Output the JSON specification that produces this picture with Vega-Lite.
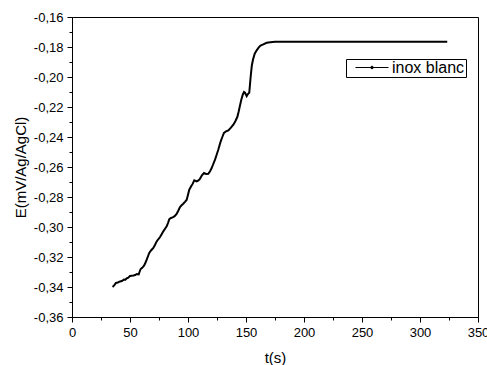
{
  "$schema": "https://vega.github.io/schema/vega-lite/v6.json",
  "width": 406,
  "height": 300,
  "autosize": {"type": "none"},
  "padding": {"left": 72, "top": 17, "right": 9, "bottom": 48},
  "background": "white",
  "config": {
    "font": "Liberation Sans",
    "view": {"stroke": "black", "strokeWidth": 1},
    "axis": {
      "domainColor": "black",
      "tickColor": "black",
      "labelColor": "black",
      "titleColor": "black",
      "labelFont": "Liberation Sans",
      "titleFont": "Liberation Sans",
      "labelFontSize": 13,
      "titleFontSize": 15,
      "titleFontWeight": "normal",
      "grid": false
    }
  },
  "data": {
    "values": [
      {"t": 35.0, "E": -0.3400, "series": "inox blanc"},
      {"t": 36.5, "E": -0.3388, "series": "inox blanc"},
      {"t": 37.9, "E": -0.3373, "series": "inox blanc"},
      {"t": 39.5, "E": -0.3370, "series": "inox blanc"},
      {"t": 41.4, "E": -0.3363, "series": "inox blanc"},
      {"t": 43.0, "E": -0.3360, "series": "inox blanc"},
      {"t": 44.8, "E": -0.3351, "series": "inox blanc"},
      {"t": 46.0, "E": -0.3352, "series": "inox blanc"},
      {"t": 47.1, "E": -0.3343, "series": "inox blanc"},
      {"t": 48.5, "E": -0.3338, "series": "inox blanc"},
      {"t": 50.0, "E": -0.3327, "series": "inox blanc"},
      {"t": 51.5, "E": -0.3325, "series": "inox blanc"},
      {"t": 52.9, "E": -0.3323, "series": "inox blanc"},
      {"t": 54.5, "E": -0.3320, "series": "inox blanc"},
      {"t": 55.8, "E": -0.3313, "series": "inox blanc"},
      {"t": 57.5, "E": -0.3316, "series": "inox blanc"},
      {"t": 58.2, "E": -0.3300, "series": "inox blanc"},
      {"t": 59.2, "E": -0.3280, "series": "inox blanc"},
      {"t": 60.5, "E": -0.3272, "series": "inox blanc"},
      {"t": 62.1, "E": -0.3258, "series": "inox blanc"},
      {"t": 63.2, "E": -0.3240, "series": "inox blanc"},
      {"t": 64.4, "E": -0.3218, "series": "inox blanc"},
      {"t": 65.5, "E": -0.3195, "series": "inox blanc"},
      {"t": 66.6, "E": -0.3173, "series": "inox blanc"},
      {"t": 68.3, "E": -0.3155, "series": "inox blanc"},
      {"t": 70.1, "E": -0.3140, "series": "inox blanc"},
      {"t": 71.5, "E": -0.3120, "series": "inox blanc"},
      {"t": 73.0, "E": -0.3096, "series": "inox blanc"},
      {"t": 74.5, "E": -0.3080, "series": "inox blanc"},
      {"t": 75.9, "E": -0.3067, "series": "inox blanc"},
      {"t": 77.3, "E": -0.3048, "series": "inox blanc"},
      {"t": 78.7, "E": -0.3029, "series": "inox blanc"},
      {"t": 80.2, "E": -0.3012, "series": "inox blanc"},
      {"t": 81.6, "E": -0.2996, "series": "inox blanc"},
      {"t": 82.8, "E": -0.2972, "series": "inox blanc"},
      {"t": 83.9, "E": -0.2947, "series": "inox blanc"},
      {"t": 85.3, "E": -0.2940, "series": "inox blanc"},
      {"t": 86.8, "E": -0.2936, "series": "inox blanc"},
      {"t": 88.5, "E": -0.2928, "series": "inox blanc"},
      {"t": 90.2, "E": -0.2913, "series": "inox blanc"},
      {"t": 91.7, "E": -0.2890, "series": "inox blanc"},
      {"t": 93.1, "E": -0.2867, "series": "inox blanc"},
      {"t": 94.5, "E": -0.2855, "series": "inox blanc"},
      {"t": 95.9, "E": -0.2845, "series": "inox blanc"},
      {"t": 97.4, "E": -0.2832, "series": "inox blanc"},
      {"t": 98.9, "E": -0.2818, "series": "inox blanc"},
      {"t": 100.0, "E": -0.2785, "series": "inox blanc"},
      {"t": 101.1, "E": -0.2751, "series": "inox blanc"},
      {"t": 102.6, "E": -0.2730, "series": "inox blanc"},
      {"t": 104.1, "E": -0.2711, "series": "inox blanc"},
      {"t": 105.4, "E": -0.2689, "series": "inox blanc"},
      {"t": 107.5, "E": -0.2696, "series": "inox blanc"},
      {"t": 109.0, "E": -0.2690, "series": "inox blanc"},
      {"t": 110.3, "E": -0.2679, "series": "inox blanc"},
      {"t": 112.0, "E": -0.2655, "series": "inox blanc"},
      {"t": 113.8, "E": -0.2640, "series": "inox blanc"},
      {"t": 115.5, "E": -0.2646, "series": "inox blanc"},
      {"t": 117.5, "E": -0.2645, "series": "inox blanc"},
      {"t": 119.0, "E": -0.2628, "series": "inox blanc"},
      {"t": 120.4, "E": -0.2607, "series": "inox blanc"},
      {"t": 121.8, "E": -0.2580, "series": "inox blanc"},
      {"t": 123.3, "E": -0.2551, "series": "inox blanc"},
      {"t": 124.7, "E": -0.2518, "series": "inox blanc"},
      {"t": 126.1, "E": -0.2485, "series": "inox blanc"},
      {"t": 127.2, "E": -0.2455, "series": "inox blanc"},
      {"t": 128.2, "E": -0.2429, "series": "inox blanc"},
      {"t": 129.6, "E": -0.2400, "series": "inox blanc"},
      {"t": 131.0, "E": -0.2373, "series": "inox blanc"},
      {"t": 132.8, "E": -0.2362, "series": "inox blanc"},
      {"t": 134.8, "E": -0.2356, "series": "inox blanc"},
      {"t": 137.0, "E": -0.2338, "series": "inox blanc"},
      {"t": 139.1, "E": -0.2318, "series": "inox blanc"},
      {"t": 140.8, "E": -0.2295, "series": "inox blanc"},
      {"t": 142.5, "E": -0.2267, "series": "inox blanc"},
      {"t": 143.7, "E": -0.2230, "series": "inox blanc"},
      {"t": 144.8, "E": -0.2191, "series": "inox blanc"},
      {"t": 146.0, "E": -0.2150, "series": "inox blanc"},
      {"t": 147.2, "E": -0.2118, "series": "inox blanc"},
      {"t": 148.3, "E": -0.2100, "series": "inox blanc"},
      {"t": 149.2, "E": -0.2105, "series": "inox blanc"},
      {"t": 150.6, "E": -0.2128, "series": "inox blanc"},
      {"t": 151.8, "E": -0.2112, "series": "inox blanc"},
      {"t": 152.8, "E": -0.2105, "series": "inox blanc"},
      {"t": 154.0, "E": -0.2000, "series": "inox blanc"},
      {"t": 155.0, "E": -0.1925, "series": "inox blanc"},
      {"t": 156.0, "E": -0.1885, "series": "inox blanc"},
      {"t": 157.5, "E": -0.1845, "series": "inox blanc"},
      {"t": 159.2, "E": -0.1822, "series": "inox blanc"},
      {"t": 161.0, "E": -0.1803, "series": "inox blanc"},
      {"t": 162.5, "E": -0.1790, "series": "inox blanc"},
      {"t": 164.9, "E": -0.1782, "series": "inox blanc"},
      {"t": 167.8, "E": -0.1772, "series": "inox blanc"},
      {"t": 171.0, "E": -0.1768, "series": "inox blanc"},
      {"t": 175.0, "E": -0.1765, "series": "inox blanc"},
      {"t": 200.0, "E": -0.1765, "series": "inox blanc"},
      {"t": 225.0, "E": -0.1765, "series": "inox blanc"},
      {"t": 250.0, "E": -0.1765, "series": "inox blanc"},
      {"t": 275.0, "E": -0.1765, "series": "inox blanc"},
      {"t": 300.0, "E": -0.1765, "series": "inox blanc"},
      {"t": 323.5, "E": -0.1765, "series": "inox blanc"}
    ]
  },
  "mark": {"type": "line", "strokeWidth": 2, "interpolate": "linear"},
  "encoding": {
    "x": {
      "field": "t",
      "type": "quantitative",
      "scale": {"domain": [0, 350], "nice": false, "zero": false},
      "axis": {
        "title": "t(s)",
        "values": [0, 25, 50, 75, 100, 125, 150, 175, 200, 225, 250, 275, 300, 325, 350],
        "labelExpr": "datum.value % 50 === 0 ? datum.label : ''",
        "labelFlush": false,
        "labelOverlap": false,
        "tickSize": {"condition": {"test": "datum.value % 50 === 0", "value": 5}, "value": 3},
        "labelPadding": 4,
        "titlePadding": 11
      }
    },
    "y": {
      "field": "E",
      "type": "quantitative",
      "scale": {"domain": [-0.36, -0.16], "nice": false, "zero": false},
      "axis": {
        "title": "E(mV/Ag/AgCl)",
        "values": [-0.36, -0.35, -0.34, -0.33, -0.32, -0.31, -0.30, -0.29, -0.28, -0.27, -0.26, -0.25, -0.24, -0.23, -0.22, -0.21, -0.20, -0.19, -0.18, -0.17, -0.16],
        "labelExpr": "round(datum.value * 100) % 2 === 0 ? '-0,' + format(round(abs(datum.value) * 100), 'd') : ''",
        "labelFlush": false,
        "labelOverlap": false,
        "tickSize": {"condition": {"test": "round(datum.value * 100) % 2 === 0", "value": 5}, "value": 3},
        "labelPadding": 4,
        "titlePadding": 5
      }
    },
    "color": {
      "field": "series",
      "type": "nominal",
      "scale": {"range": ["black"]},
      "legend": {
        "title": null,
        "orient": "none",
        "legendX": 274,
        "legendY": 42,
        "strokeColor": "black",
        "padding": 1,
        "clipHeight": 15,
        "symbolType": "M-0.61,0H1M0.13,0a0.065,0.065 0 1,0 0.13,0a0.065,0.065 0 1,0 -0.13,0",
        "symbolSize": 1681,
        "symbolStrokeWidth": 1,
        "symbolFillColor": "black",
        "labelFontSize": 16,
        "labelFont": "Liberation Sans",
        "labelColor": "black",
        "labelOffset": 3
      }
    }
  }
}
